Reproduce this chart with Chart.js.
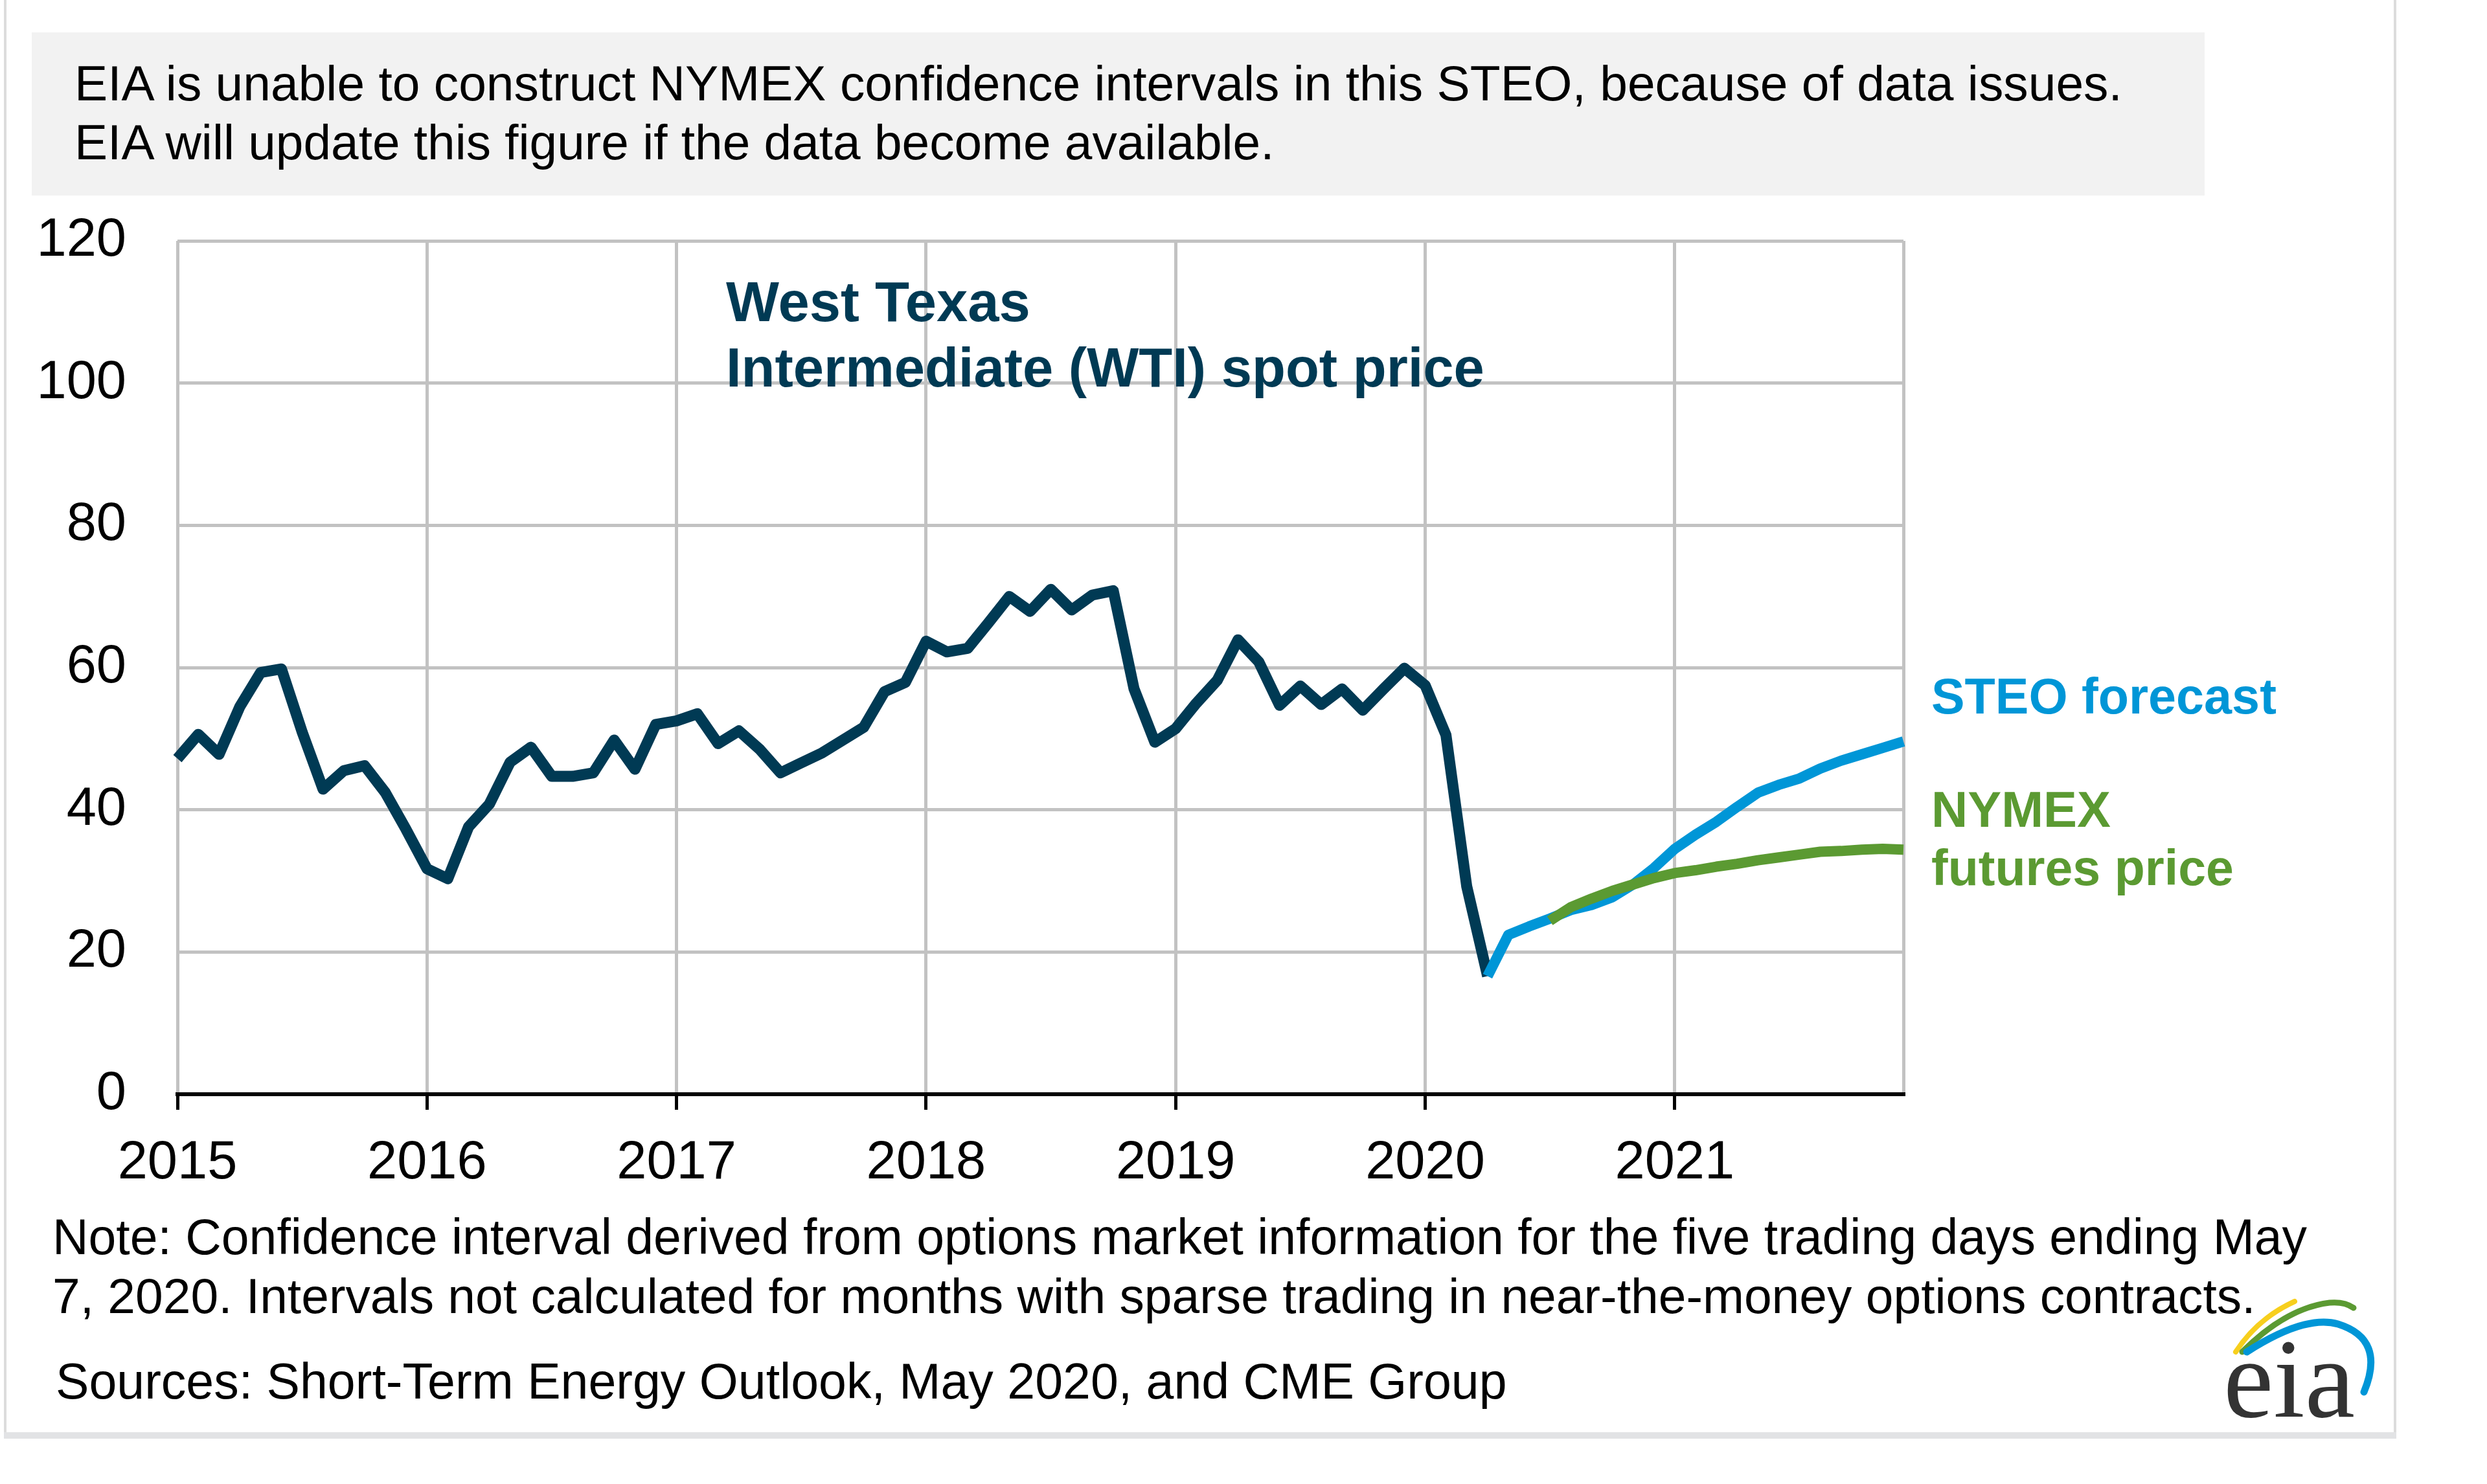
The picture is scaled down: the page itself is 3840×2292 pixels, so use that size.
<!DOCTYPE html>
<html>
<head>
<meta charset="utf-8">
<script src="https://cdn.jsdelivr.net/npm/chart.js@4.4.1/dist/chart.umd.min.js"></script>
<style>
  html, body { margin: 0; padding: 0; background: #fff; }
  #wrap { position: relative; width: 3840px; height: 2292px; overflow: hidden; background: #fff;
          font-family: "Liberation Sans", Arial, sans-serif; }
  #c { position: absolute; left: 0; top: 0; }
  .t { position: absolute; white-space: nowrap; line-height: 1; color: #000; }
  .b { font-weight: bold; }
  .box { position: absolute; }
</style>
</head>
<body>
<div id="wrap">
  <div class="box" style="left:6px;top:0;width:4px;height:2218px;background:#dcdcdc"></div>
  <div class="box" style="left:3696px;top:0;width:4px;height:2218px;background:#dcdcdc"></div>
  <div class="box" style="left:6px;top:2212px;width:3694px;height:10px;background:#e2e3e5"></div>
  <div class="box" style="left:49px;top:50px;width:3355px;height:252px;background:#f2f2f2"></div>

  <canvas id="c" width="3840" height="2292"></canvas>

  <div class="t" data-x="115" data-b="155" data-w="3167">EIA is unable to construct NYMEX confidence intervals in this STEO, because of data issues.</div>
  <div class="t" data-x="115" data-b="247" data-w="1857">EIA will update this figure if the data become available.</div>

  <div class="t b" style="color:#003a54" data-x="1121" data-b="497" data-w="470">West Texas</div>
  <div class="t b" style="color:#003a54" data-x="1121" data-b="597" data-w="1171">Intermediate (WTI) spot price</div>

  <div class="t b" style="color:#0096d7" data-x="2982" data-b="1102" data-w="533">STEO forecast</div>
  <div class="t b" style="color:#5b9a32" data-x="2982" data-b="1278" data-w="277">NYMEX</div>
  <div class="t b" style="color:#5b9a32" data-x="2982" data-b="1367" data-w="467">futures price</div>

  <div class="t" data-x="81" data-b="1937" data-w="3482">Note: Confidence interval derived from options market information for the five trading days ending May</div>
  <div class="t" data-x="81" data-b="2028" data-w="3402">7, 2020. Intervals not calculated for months with sparse trading in near-the-money options contracts.</div>
  <div class="t" data-x="86" data-b="2160" data-w="2241">Sources: Short-Term Energy Outlook, May 2020, and CME Group</div>

  <div class="t" style="font-family:'Liberation Serif','DejaVu Serif',serif;color:#333" data-x="3433" data-b="2190" data-w="203">eia</div>
  <svg class="box" style="left:0;top:0" width="3840" height="2292" viewBox="0 0 3840 2292">
    <path d="M3452,2088 Q3486,2036 3543,2010" fill="none" stroke="#f7cf1d" stroke-width="8" stroke-linecap="round"/>
    <path d="M3462,2088 Q3530,2020 3597,2012 Q3620,2010 3634,2020" fill="none" stroke="#5b9a32" stroke-width="9" stroke-linecap="round"/>
    <path d="M3469,2088 Q3560,2030 3610,2045 Q3684,2068 3650,2150" fill="none" stroke="#0096d7" stroke-width="11" stroke-linecap="round"/>
  </svg>
</div>

<script>
// ---- Data ----
const yearTicks = ['2015', '2016', '2017', '2018', '2019', '2020', '2021'];
const monthNames = ['Jan','Feb','Mar','Apr','May','Jun','Jul','Aug','Sep','Oct','Nov','Dec'];

// WTI spot price, monthly, Jan 2015 - Apr 2020 (dollars per barrel)
const wtiSpot = [
  47.2, 50.6, 47.8, 54.5, 59.3, 59.8, 50.9, 42.9, 45.5, 46.2, 42.4, 37.2,
  31.7, 30.3, 37.6, 40.8, 46.7, 48.8, 44.7, 44.7, 45.2, 49.8, 45.7, 52.0,
  52.5, 53.5, 49.3, 51.1, 48.5, 45.2, 46.6, 48.0, 49.8, 51.6, 56.6, 57.9,
  63.7, 62.2, 62.7, 66.3, 70.0, 67.9, 71.0, 68.1, 70.2, 70.8, 57.0, 49.5,
  51.4, 55.0, 58.2, 63.9, 60.8, 54.7, 57.4, 54.8, 57.0, 54.0, 57.0, 59.9,
  57.5, 50.5, 29.2, 16.6
];
const wtiStart = 'Jan 2015';

// STEO forecast, Apr 2020 - Dec 2021
const steoForecast = [
  16.6, 22.4, 23.6, 24.7, 25.9, 26.6, 27.7, 29.5, 31.8,
  34.5, 36.5, 38.3, 40.4, 42.4, 43.5, 44.4, 45.8, 46.9, 47.8, 48.7, 49.6
];
const steoStart = 'Apr 2020';

// NYMEX futures price, Jul 2020 - Dec 2021
const nymexFutures = [
  24.4, 26.3, 27.5, 28.6, 29.5, 30.4,
  31.1, 31.5, 32.0, 32.4, 32.9, 33.3, 33.7, 34.1, 34.2, 34.4, 34.5, 34.4
];
const nymexStart = 'Jul 2020';

const yTicks = [0, 20, 40, 60, 80, 100, 120];

// ---- Build library structures ----
const labels = [];
yearTicks.forEach(y => monthNames.forEach(m => labels.push(m + ' ' + y)));
function align(arr, startLabel) {
  const s = labels.indexOf(startLabel);
  return labels.map((_, i) => (i >= s && i - s < arr.length) ? arr[i - s] : null);
}
const isYearStart = i => i % 12 === 0;

// ---- Fit text overlays ----
const mctx = document.createElement('canvas').getContext('2d');
document.querySelectorAll('.t').forEach(el => {
  const cs = getComputedStyle(el);
  mctx.font = cs.fontWeight + ' 100px ' + cs.fontFamily;
  const m = mctx.measureText(el.textContent).width;
  const size = 100 * (+el.dataset.w) / m;
  el.style.fontSize = size + 'px';
  el.style.left = el.dataset.x + 'px';
  el.style.top = (+el.dataset.b - 0.8465 * size) + 'px';
});

// ---- Chart ----
const gridGray = '#c2c2c2';
const clear = 'rgba(0,0,0,0)';
const tickFont = { family: '"Liberation Sans", Arial, sans-serif', size: 83 };

new Chart(document.getElementById('c'), {
  type: 'line',
  data: {
    labels: labels,
    datasets: [
      { label: 'NYMEX futures price', data: align(nymexFutures, nymexStart), borderColor: '#5b9a32', borderWidth: 16, order: 0 },
      { label: 'STEO forecast', data: align(steoForecast, steoStart), borderColor: '#0096d7', borderWidth: 16, order: 1 },
      { label: 'WTI spot price', data: align(wtiSpot, wtiStart), borderColor: '#003a54', borderWidth: 17, order: 2 }
    ]
  },
  options: {
    responsive: false,
    animation: false,
    devicePixelRatio: 1,
    spanGaps: false,
    layout: { padding: { left: 0, top: 372, right: 901, bottom: 0 } },
    plugins: { legend: { display: false }, tooltip: { enabled: false } },
    elements: {
      point: { radius: 0, hoverRadius: 0 },
      line: { tension: 0, borderJoinStyle: 'round', borderCapStyle: 'butt', fill: false }
    },
    scales: {
      x: {
        type: 'category',
        offset: false,
        grid: {
          color: c => (isYearStart(c.index) || c.index === labels.length - 1) ? gridGray : clear,
          lineWidth: 5,
          drawTicks: true,
          tickLength: 24,
          tickWidth: 5,
          tickColor: c => isYearStart(c.index) ? '#000' : clear
        },
        border: { display: true, color: '#000', width: 6 },
        ticks: {
          autoSkip: false, maxRotation: 0, minRotation: 0, padding: 33,
          color: '#000', font: tickFont,
          callback: (v, i) => isYearStart(i) ? yearTicks[i / 12] : ''
        },
        afterFit: s => { s.height = 602; }
      },
      y: {
        min: yTicks[0], max: yTicks[yTicks.length - 1],
        afterBuildTicks: s => { s.ticks = yTicks.map(v => ({ value: v })); },
        grid: {
          color: c => (c.tick && c.tick.value === 0) ? clear : gridGray,
          lineWidth: 5,
          drawTicks: false
        },
        border: { display: false },
        ticks: { padding: 79, color: '#000', font: tickFont },
        afterFit: s => { s.width = 274; }
      }
    }
  }
});
</script>
</body>
</html>
